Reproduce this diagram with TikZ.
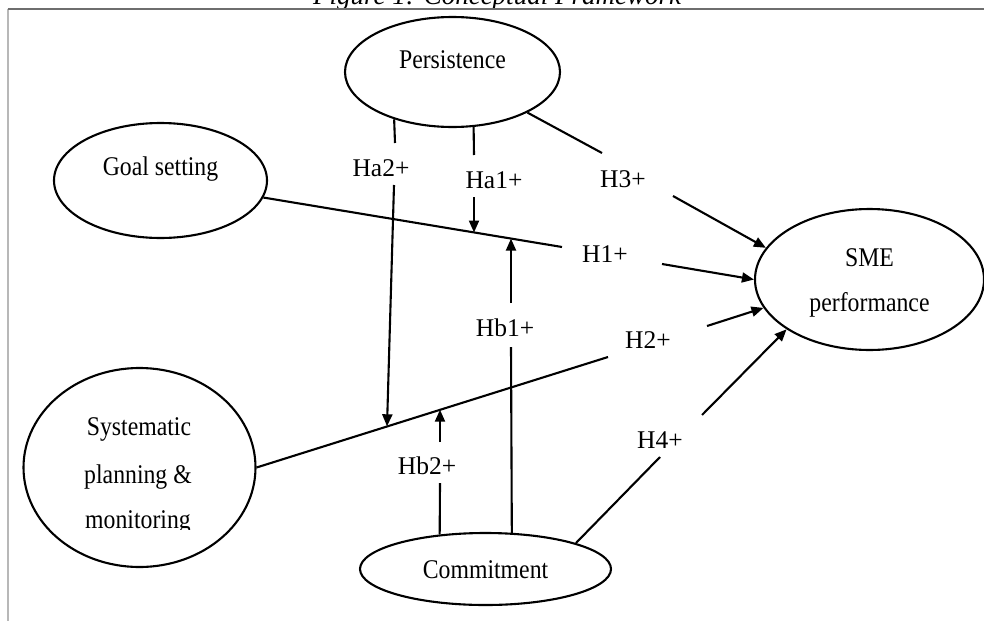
\documentclass[tikz,border=0pt]{standalone}
\usepackage{fontspec}
\setmainfont{Liberation Serif}
\newfontfamily\nodefont[FakeStretch=0.88]{Liberation Serif}
\usetikzlibrary{shapes.geometric,arrows.meta}
\definecolor{framedark}{HTML}{6E6E6E}
\definecolor{framelight}{HTML}{B8B8B8}
\begin{document}
\begin{tikzpicture}[x=1pt,y=-1pt,
  ell/.style={draw,ellipse,line width=2.1pt,inner sep=0pt},
  lbl/.style={anchor=base,inner sep=0pt,font=\fontsize{25.5}{30}\selectfont},
  ntxt/.style={anchor=base,inner sep=0pt,font=\nodefont\fontsize{27}{30}\selectfont},
  conn/.style={line width=2.1pt},
  arr/.style={line width=2.1pt,-{Triangle[length=12pt,width=10pt]}}]
\useasboundingbox (0,0) rectangle (984,621);

% frame and title
\node[anchor=base,inner sep=0pt,font=\itshape\fontsize{27}{30}\selectfont] (title) at (497,5) {Figure 1: Conceptual Framework};
\coordinate (ftl) at (7.5,9.3);
\coordinate (ftr) at (984,9.3);
\coordinate (fbl) at (7.5,621);
\draw[line width=2pt,framelight] (ftl) -- (fbl);
\draw[line width=2pt,framedark] (ftl) -- (ftr);

% ellipses
\node[ell,minimum width=215pt,minimum height=110pt] (pers) at (452.5,72) {};
\node[ell,minimum width=213pt,minimum height=115pt] (goal) at (160.5,180.5) {};
\node[ell,minimum width=232pt,minimum height=199pt] (sys) at (139.5,467.5) {};
\node[ell,minimum width=251pt,minimum height=72pt] (comm) at (485.5,569) {};
\node[ell,minimum width=229pt,minimum height=141pt] (sme) at (869.5,279.5) {};

% ellipse texts
\node[ntxt] (perst) at (452.5,68) {Persistence};
\node[ntxt] (goalt) at (160.5,175) {Goal setting};
\node[ntxt] (smet1) at (869.5,266) {SME};
\node[ntxt] (smet2) at (869.5,311) {performance};
\node[ntxt] (syst1) at (139,435) {Systematic};
\node[ntxt] (syst2) at (138,483) {planning \&};
\begin{scope}
\clip (0,0) rectangle (984,529);
\node[ntxt] (syst3) at (138,528) {monitoring};
\end{scope}
\node[ntxt] (commt) at (485.5,578) {Commitment};

% labels
\node[lbl] (h3) at (623,187) {H3+};
\node[lbl] (h1) at (605,262) {H1+};
\node[lbl] (h2) at (648,348) {H2+};
\node[lbl] (h4) at (660,448) {H4+};
\node[lbl] (ha1) at (494,188) {Ha1+};
\node[lbl] (ha2) at (381,176) {Ha2+};
\node[lbl] (hb1) at (505,336) {Hb1+};
\node[lbl] (hb2) at (427,474) {Hb2+};

% line break points
\coordinate (h3a) at (602,153);
\coordinate (h3b) at (673,196);
\coordinate (h1a) at (562,247);
\coordinate (h1b) at (662,264);
\coordinate (h2a) at (608,357);
\coordinate (h2b) at (707,326);
\coordinate (h4a) at (660,457);
\coordinate (h4b) at (702,415);
\coordinate (ha2a) at (395,143);
\coordinate (ha2b) at (394,185);
\coordinate (ha2t) at (387,426.3);
\coordinate (ha1a) at (474,155);
\coordinate (ha1b) at (474,197);
\coordinate (ha1t) at (474,232.5);
\coordinate (hb1a) at (511,347);
\coordinate (hb1b) at (511,303);
\coordinate (hb1t) at (511,238.6);
\coordinate (hb2a) at (440,483);
\coordinate (hb2b) at (440,442);
\coordinate (hb2t) at (440,409.7);

% direct paths
\draw[conn] (pers) -- (h3a);
\draw[arr] (h3b) -- (sme.163.4);
\draw[conn] (goal) -- (h1a);
\draw[arr] (h1b) -- (sme.west);
\draw[conn] (sys.east) -- (h2a);
\draw[arr] (h2b) -- (sme.195.5);
\draw[conn] (comm.16.8) -- (h4a);
\draw[arr] (h4b) -- (sme.211.3);

% moderators
\draw[conn] (pers.219.8) -- (ha2a);
\draw[arr] (ha2b) -- (ha2t);
\draw[conn] (pers.291.75) -- (ha1a);
\draw[arr] (ha1b) -- (ha1t);
\draw[conn] (comm.54.1) -- (hb1a);
\draw[arr] (hb1b) -- (hb1t);
\draw[conn] (comm.143.6) -- (hb2a);
\draw[arr] (hb2b) -- (hb2t);
\end{tikzpicture}
\end{document}
